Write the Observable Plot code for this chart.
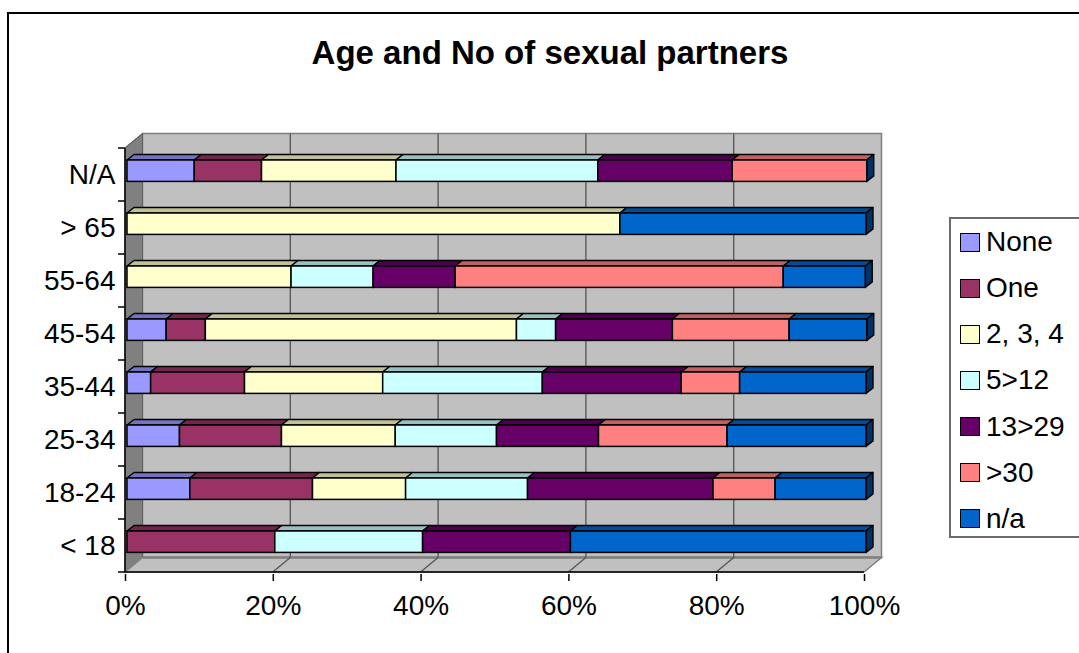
<!DOCTYPE html>
<html>
<head>
<meta charset="utf-8">
<script src="https://cdn.jsdelivr.net/npm/d3@7"></script>
<script src="https://cdn.jsdelivr.net/npm/@observablehq/plot@0.6"></script>
<style>
  html, body { margin: 0; padding: 0; background: #fff; overflow: hidden; }
  body { width: 1079px; height: 653px; position: relative; font-family: "Liberation Sans", Arial, sans-serif; }
  #frame { position: absolute; left: 7px; top: 12px; width: 1200px; height: 800px; border: 2px solid #000; box-sizing: border-box; }
  #title { position: absolute; left: 0; top: 36px; width: 1100px; text-align: center; font-weight: bold; font-size: 33px; line-height: 33px; color: #000; }
  #chart { position: absolute; left: 0; top: 0; }
  #legend { position: absolute; left: 949px; top: 217px; width: 200px; height: 321px; border: 2px solid #6b6b6b; box-sizing: border-box; background: #fff; }
  .item { display: flex; align-items: center; height: 46.15px; }
  .sw { width: 20px; height: 19px; box-sizing: border-box; border: 1.6px solid #000; margin-left: 9px; margin-right: 6px; }
  .lab { font-size: 28px; color: #000; white-space: nowrap; }
</style>
</head>
<body>
<div id="frame"></div>
<div id="chart"></div>
<div id="title">Age and No of sexual partners</div>
<div id="legend"></div>
<script>
// ---- data (percent of each age group) ----
const ages = ["N/A", "> 65", "55-64", "45-54", "35-44", "25-34", "18-24", "< 18"];
const seriesNames = ["None", "One", "2, 3, 4", "5>12", "13>29", ">30", "n/a"];
const none      = [9.1, 0, 0, 5.3, 3.2, 7.1, 8.5, 0];
const one       = [9.1, 0, 0, 5.3, 12.7, 13.8, 16.6, 20];
const two34     = [18.2, 66.7, 22.2, 42.1, 18.7, 15.4, 12.6, 0];
const five12    = [27.3, 0, 11.1, 5.3, 21.6, 13.7, 16.5, 20];
const thirteen29= [18.2, 0, 11.1, 15.8, 18.8, 13.8, 25.1, 20];
const over30    = [18.2, 0, 44.4, 15.8, 7.9, 17.4, 8.4, 0];
const na        = [0, 33.3, 11.1, 10.5, 17.1, 18.8, 12.3, 40];
const xTicks = [0, 20, 40, 60, 80, 100];
const colors = ["#9999FF", "#993366", "#FFFFCC", "#CCFFFF", "#660066", "#FF8080", "#0066CC"];

const seriesValues = [none, one, two34, five12, thirteen29, over30, na];
const rows = [];
ages.forEach((age, i) => {
  seriesNames.forEach((s, j) => rows.push({age, series: s, value: seriesValues[j][i]}));
});
const topColors = colors.map(c => d3.rgb(c).darker(0.8).formatHex());
const sideColor = d3.rgb(colors[6]).darker(2).formatHex();

// 3D geometry offsets (pixels)
const DX = 17.5, DY = 14.5;    // wall depth
const BDX = 7, BDY = 5.5;      // bar depth
const AXS = -2;                // front axis shift
const INSET_T = 12, INSET_B = 19.6;

function walls(index, scales) {
  const X = scales.x, Y = scales.y;
  const bw = Y.bandwidth();
  const ax = v => X(v) + AXS;
  const y0 = Y(ages[0]), yB = Y(ages[ages.length - 1]) + bw;
  const g = d3.create("svg:g");
  const poly = pts => "M" + pts.map(p => p.join(",")).join("L") + "Z";
  // back wall
  g.append("path").attr("d", poly([[ax(0)+DX, y0-DY],[ax(100)+DX, y0-DY],[ax(100)+DX, yB-DY],[ax(0)+DX, yB-DY]]))
    .attr("fill", "#c0c0c0").attr("stroke", "#808080").attr("stroke-width", 1.5);
  // left wall
  g.append("path").attr("d", poly([[ax(0), y0],[ax(0)+DX, y0-DY],[ax(0)+DX, yB-DY],[ax(0), yB]]))
    .attr("fill", "#808080").attr("stroke", "#606060").attr("stroke-width", 1);
  // floor
  g.append("path").attr("d", poly([[ax(0), yB],[ax(0)+DX, yB-DY],[ax(100)+DX, yB-DY],[ax(100), yB]]))
    .attr("fill", "#c0c0c0").attr("stroke", "#808080").attr("stroke-width", 1.5);
  g.append("line").attr("x1", ax(0)+DX).attr("x2", ax(100)+DX).attr("y1", yB-DY).attr("y2", yB-DY)
    .attr("stroke", "#808080").attr("stroke-width", 2.5);
  // gridlines on back wall and floor
  xTicks.filter(v => v > 0 && v < 100).forEach(v => {
    g.append("line").attr("x1", ax(v)+DX).attr("x2", ax(v)+DX).attr("y1", y0-DY).attr("y2", yB-DY)
      .attr("stroke", "#555").attr("stroke-width", 1.3);
    g.append("line").attr("x1", ax(v)+DX).attr("x2", ax(v)).attr("y1", yB-DY).attr("y2", yB)
      .attr("stroke", "#555").attr("stroke-width", 1.3);
  });
  // top edge of left wall
  g.append("line").attr("x1", ax(0)).attr("x2", ax(0)+DX).attr("y1", y0).attr("y2", y0-DY)
    .attr("stroke", "#555").attr("stroke-width", 1);
  // y axis line and ticks at band boundaries
  g.append("line").attr("x1", ax(0)).attr("x2", ax(0)).attr("y1", y0).attr("y2", yB)
    .attr("stroke", "#000").attr("stroke-width", 1.5);
  ages.forEach(a => {
    g.append("line").attr("x1", ax(0)-7).attr("x2", ax(0)).attr("y1", Y(a)).attr("y2", Y(a))
      .attr("stroke", "#000").attr("stroke-width", 1.5);
  });
  g.append("line").attr("x1", ax(0)-7).attr("x2", ax(0)).attr("y1", yB).attr("y2", yB)
    .attr("stroke", "#000").attr("stroke-width", 1.5);
  // x axis line
  g.append("line").attr("x1", ax(0)).attr("x2", ax(100)).attr("y1", yB).attr("y2", yB)
    .attr("stroke", "#000").attr("stroke-width", 1.5);
  return g.node();
}

function barTops(index, scales) {
  const X = scales.x, Y = scales.y;
  const bw = Y.bandwidth();
  const g = d3.create("svg:g");
  const poly = pts => "M" + pts.map(p => p.join(",")).join("L") + "Z";
  ages.forEach((age, i) => {
    const yt = Y(age) + INSET_T, yb = Y(age) + bw - INSET_B;
    let c = 0;
    seriesValues.forEach((vals, j) => {
      const v = vals[i];
      if (v > 0) {
        const x1 = X(c), x2 = X(c + v);
        g.append("path").attr("d", poly([[x1, yt],[x2, yt],[x2+BDX, yt-BDY],[x1+BDX, yt-BDY]]))
          .attr("fill", topColors[j]).attr("stroke", "#000").attr("stroke-width", 1.4).attr("stroke-linejoin", "round");
      }
      c += v;
    });
    const xe = X(c);
    g.append("path").attr("d", poly([[xe, yt],[xe+BDX, yt-BDY],[xe+BDX, yb-BDY],[xe, yb]]))
      .attr("fill", sideColor).attr("stroke", "#000").attr("stroke-width", 1.4).attr("stroke-linejoin", "round");
  });
  return g.node();
}

const plot = Plot.plot({
  width: 1079,
  height: 653,
  marginLeft: 127,
  marginRight: 213,
  marginTop: 145,
  marginBottom: 79,
  style: {background: "transparent", color: "#000", fontFamily: "'Liberation Sans', Arial, sans-serif"},
  x: {domain: [0, 100]},
  y: {domain: ages, padding: 0},
  color: {domain: seriesNames, range: colors},
  marks: [
    walls,
    barTops,
    Plot.barX(rows, {x: "value", y: "age", fill: "series", stroke: "#000", strokeWidth: 1.5,
      insetTop: INSET_T, insetBottom: INSET_B}),
    Plot.axisY({tickSize: 0, tickPadding: 12, fontSize: 28, label: null}),
    Plot.axisX({ticks: xTicks, tickFormat: d => d + "%", tickSize: 7, tickPadding: 14, fontSize: 28,
      dx: AXS, label: null, strokeWidth: 1.5})
  ]
});
document.getElementById("chart").appendChild(plot);

// legend
const legend = document.getElementById("legend");
seriesNames.forEach((s, j) => {
  const it = document.createElement("div");
  it.className = "item";
  const sw = document.createElement("div");
  sw.className = "sw";
  sw.style.background = colors[j];
  const lab = document.createElement("span");
  lab.className = "lab";
  lab.textContent = s;
  it.appendChild(sw); it.appendChild(lab);
  legend.appendChild(it);
});
</script>
</body>
</html>
